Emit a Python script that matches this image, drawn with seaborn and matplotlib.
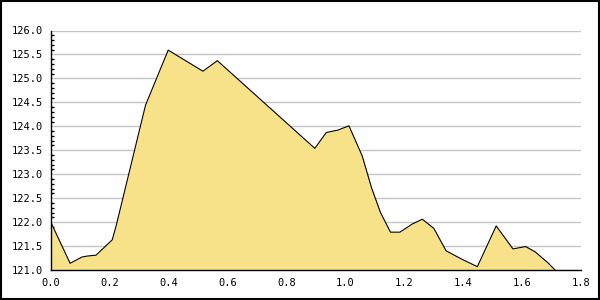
import matplotlib
matplotlib.use("Agg")
import matplotlib.pyplot as plt
from matplotlib.patches import Rectangle
from matplotlib.ticker import MultipleLocator
import seaborn as sns
import pandas as pd
import numpy as np

x_values = [0.0, 0.065, 0.105, 0.122, 0.153, 0.208, 0.222, 0.321, 0.398, 0.516,
            0.565, 0.896, 0.935, 0.974, 1.012, 1.057, 1.089, 1.119, 1.153, 1.185,
            1.227, 1.261, 1.300, 1.342, 1.397, 1.448, 1.512, 1.569, 1.612, 1.644,
            1.686, 1.712]
y_values = [121.99, 121.14, 121.27, 121.29, 121.31, 121.63, 121.94, 124.44, 125.59, 125.15,
            125.37, 123.54, 123.87, 123.92, 124.01, 123.38, 122.71, 122.20, 121.79, 121.79,
            121.96, 122.06, 121.87, 121.40, 121.22, 121.07, 121.92, 121.44, 121.49, 121.38,
            121.16, 121.00]
x_ticks = [0.0, 0.2, 0.4, 0.6, 0.8, 1.0, 1.2, 1.4, 1.6, 1.8]
y_ticks = [121.0, 121.5, 122.0, 122.5, 123.0, 123.5, 124.0, 124.5, 125.0, 125.5, 126.0]

df = pd.DataFrame({"x": x_values, "y": y_values})

sns.set_style("white")
plt.rcParams["font.family"] = ["DejaVu Sans Mono"]

fig = plt.figure(figsize=(6, 3), dpi=100)
fig.patch.set_facecolor("white")
ax = fig.add_axes([51 / 600, 30 / 300, 530 / 600, 239.5 / 300])

ax.fill_between(df["x"], df["y"], 121.0, color="#F7E189", linewidth=0, zorder=2)
sns.lineplot(data=df, x="x", y="y", ax=ax, color="black", linewidth=0.8,
             sort=False, zorder=3)

ax.set_xlim(0, 1.8)
ax.set_ylim(121.0, 126.0)
ax.set_xticks(x_ticks)
ax.set_yticks(y_ticks)
ax.set_xticklabels([f"{v:.1f}" for v in x_ticks])
ax.set_yticklabels([f"{v:.1f}" for v in y_ticks])
ax.yaxis.set_minor_locator(MultipleLocator(0.1))

ax.yaxis.grid(True, color="#C4C4C4", linewidth=1.0, zorder=1)
ax.xaxis.grid(False)
ax.set_axisbelow(True)

for s in ["top", "right"]:
    ax.spines[s].set_visible(False)
for s in ["left", "bottom"]:
    ax.spines[s].set_color("black")
    ax.spines[s].set_linewidth(1.0)
    ax.spines[s].set_zorder(4)

ax.tick_params(axis="both", which="major", direction="in", length=4, width=1,
               color="black", labelsize=7.5, labelcolor="black")
ax.tick_params(axis="y", which="major", pad=6)
ax.tick_params(axis="x", which="major", pad=6)
ax.tick_params(axis="y", which="minor", direction="in", length=2.2, width=1,
               color="black", left=True)
ax.set_xlabel("")
ax.set_ylabel("")
ax.set_facecolor("white")

fig.add_artist(Rectangle((0.001, 0.002), 0.997, 0.995, transform=fig.transFigure,
                         fill=False, edgecolor="black", linewidth=1.5))

fig.savefig("out.png", dpi=100)
